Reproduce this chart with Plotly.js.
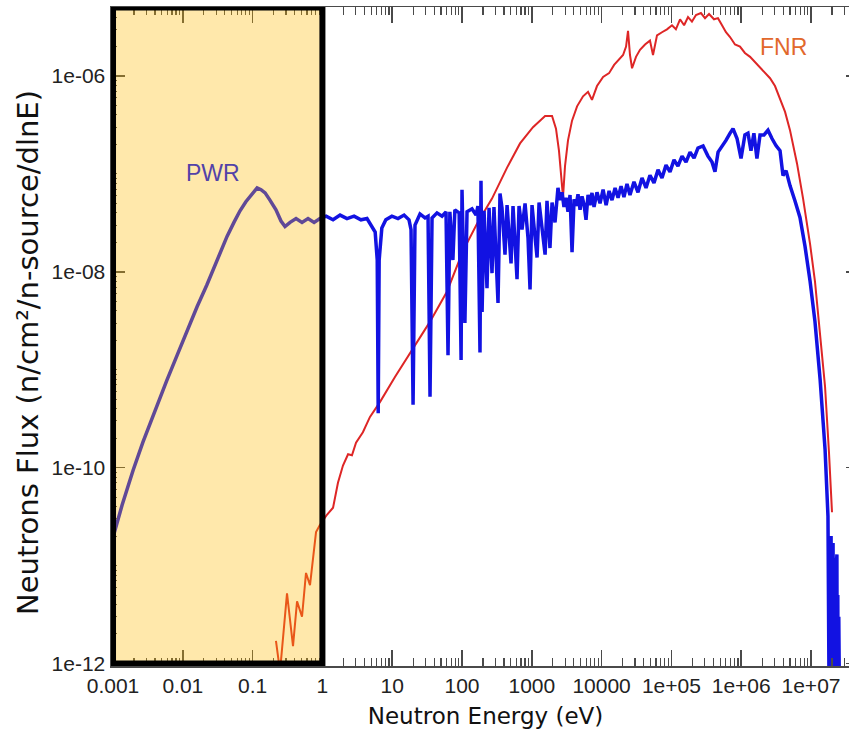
<!DOCTYPE html>
<html>
<head>
<meta charset="utf-8">
<script src="https://cdn.plot.ly/plotly-3.0.1.min.js"></script>
<style>
  html, body { margin: 0; padding: 0; background: #ffffff; overflow: hidden; }
  #chart { width: 860px; height: 749px; }
</style>
</head>
<body>
<div id="chart"></div>
<script>
// PWR neutron spectrum: energy (eV) and flux (n/cm2/n-source/dlnE)
const pwrEnergy = [
  9.35e-4, 1.0e-3, 1.35e-3, 1.94e-3, 2.69e-3, 4.0e-3, 5.9e-3, 8.3e-3, 1.15e-2, 1.6e-2,
  2.2e-2, 3.1e-2, 4.3e-2, 5.4e-2, 6.6e-2, 8.0e-2, 9.8e-2, 0.116, 0.132, 0.151,
  0.177, 0.216, 0.255, 0.291, 0.344, 0.419, 0.51, 0.622, 0.76, 0.92,
  1.13, 1.42, 1.79, 2.25, 2.84, 3.57, 4.35, 5.1, 5.7, 6.1,
  6.3, 6.5, 7.1, 8.1, 9.9, 12.1, 14.8, 17.4, 18.6, 19.9,
  21.2, 25, 29.5, 32.6, 34.8, 37.2, 43.8, 51.7, 59, 63,
  67, 74, 79, 91, 97, 100, 103, 110, 118, 139,
  159, 169, 181, 187, 194, 207, 228, 244, 269, 287,
  328, 350, 374, 413, 442, 471, 504, 538, 574, 614,
  656, 724, 800, 883, 943, 1007, 1110, 1190, 1270, 1400,
  1550, 1650, 1820, 1950, 2150, 2370, 2536, 2710, 2890, 3090,
  3300, 3530, 3770, 4030, 4300, 4590, 4910, 5240, 5600, 5980,
  6390, 6820, 7280, 7790, 8590, 9490, 10500, 11600, 12800, 14100,
  15600, 17200, 19000, 20900, 23100, 25500, 29100, 33200, 37900, 43300,
  49300, 56300, 64300, 73300, 83700, 95500, 1.09e5, 1.24e5, 1.42e5, 1.62e5,
  1.85e5, 2.11e5, 2.40e5, 2.84e5, 3.34e5, 3.82e5, 4.21e5, 4.66e5, 5.3e5, 6.05e5,
  6.9e5, 7.63e5, 8.71e5, 9.94e5, 1.13e6, 1.25e6, 1.38e6, 1.52e6, 1.68e6, 1.86e6,
  2.12e6, 2.42e6, 2.76e6, 3.15e6, 3.6e6, 3.97e6, 4.39e6, 5.0e6, 5.9e6, 6.95e6,
  8.2e6, 9.7e6, 1.14e7, 1.35e7, 1.59e7, 1.75e7, 1.84e7, 1.87e7, 1.91e7, 1.94e7,
  1.97e7, 2.0e7, 2.04e7, 2.07e7, 2.11e7, 2.14e7, 2.18e7, 2.22e7, 2.26e7, 2.3e7,
  2.35e7, 2.38e7, 2.42e7, 2.46e7, 2.5e7, 2.6e7
];
const pwrFlux = [
  1.5e-11, 1.95e-11, 4.15e-11, 9.4e-11, 1.83e-10, 3.9e-10, 7.8e-10, 1.41e-9, 2.55e-9, 4.4e-9,
  7.3e-9, 1.32e-8, 2.3e-8, 3.2e-8, 4.2e-8, 5.2e-8, 6.2e-8, 7.2e-8, 6.9e-8, 6.4e-8,
  5.4e-8, 4.3e-8, 3.3e-8, 2.9e-8, 3.2e-8, 3.5e-8, 3.2e-8, 3.5e-8, 3.2e-8, 3.5e-8,
  3.7e-8, 3.4e-8, 3.8e-8, 3.5e-8, 3.7e-8, 3.4e-8, 3.5e-8, 2.9e-8, 2.55e-8, 1.32e-8,
  3.6e-10, 1.32e-8, 2.8e-8, 3.4e-8, 3.7e-8, 3.5e-8, 3.8e-8, 3.4e-8, 2.7e-8, 4.4e-10,
  3.0e-8, 3.9e-8, 3.55e-8, 3.7e-8, 5.3e-10, 3.55e-8, 4.0e-8, 3.7e-8, 4.1e-8, 1.41e-9,
  4.1e-8, 1.32e-8, 4.3e-8, 4.0e-8, 1.26e-9, 6.9e-8, 2.5e-8, 3.0e-9, 4.1e-8, 4.4e-8,
  3.8e-8, 4.7e-8, 1.5e-9, 8.5e-8, 3.9e-9, 4.2e-8, 6.8e-9, 4.5e-8, 9.7e-9, 4.6e-8,
  4.8e-9, 6.3e-8, 4.5e-8, 1.5e-8, 4.8e-8, 2.6e-8, 1.22e-8, 4.7e-8, 2.1e-8, 8.4e-9,
  4.7e-8, 2.7e-8, 5.0e-8, 2.2e-8, 6.6e-9, 4.8e-8, 2.3e-8, 1.4e-8, 5.1e-8, 2.6e-8,
  1.5e-8, 5.3e-8, 1.75e-8, 5.1e-8, 3.2e-8, 7.2e-8, 5.4e-8, 6.5e-8, 4.6e-8, 5.7e-8,
  4.1e-8, 6.1e-8, 1.59e-8, 5.5e-8, 4.7e-8, 6.2e-8, 4.3e-8, 5.9e-8, 4.9e-8, 3.4e-8,
  6.1e-8, 4.8e-8, 6.4e-8, 4.6e-8, 6.5e-8, 5.0e-8, 6.9e-8, 4.8e-8, 6.7e-8, 5.4e-8,
  7.2e-8, 5.7e-8, 7.5e-8, 5.8e-8, 7.9e-8, 6.1e-8, 8.3e-8, 6.5e-8, 9.1e-8, 7.2e-8,
  9.7e-8, 8.1e-8, 1.10e-7, 9.1e-8, 1.23e-7, 1.05e-7, 1.39e-7, 1.20e-7, 1.52e-7, 1.32e-7,
  1.67e-7, 1.45e-7, 1.84e-7, 1.93e-7, 1.52e-7, 1.32e-7, 1.05e-7, 1.67e-7, 1.9e-7, 2.2e-7,
  2.6e-7, 2.9e-7, 2.3e-7, 1.44e-7, 2.5e-7, 2.6e-7, 1.73e-7, 2.6e-7, 1.44e-7, 2.5e-7,
  2.5e-7, 2.8e-7, 2.3e-7, 1.95e-7, 1.73e-7, 9.6e-8, 1.08e-7, 7.6e-8, 5.3e-8, 3.6e-8,
  1.83e-8, 8.0e-9, 3.1e-9, 8.0e-10, 1.54e-10, 3.2e-11, 1e-13, 1.4e-11, 1e-13, 2.0e-11,
  1e-13, 1.5e-11, 1e-13, 1.7e-11, 1e-13, 1.1e-11, 1e-13, 1.2e-11, 1e-13, 9e-12,
  1.3e-11, 1e-13, 5e-12, 1e-13, 3e-12, 1e-13
];

// FNR (fast reactor) spectrum
const fnrEnergy = [
  0.216, 0.247, 0.311, 0.379, 0.433, 0.51, 0.582, 0.664, 0.81, 0.92,
  1.16, 1.42, 1.67, 1.97, 2.33, 2.65, 3.03, 3.8, 4.8, 6.7,
  11, 19.9, 34.8, 61, 103, 164, 269, 442, 678, 1040,
  1550, 1950, 2220, 2450, 2620, 2800, 2990, 3300, 3770, 4450,
  5420, 6390, 7280, 8590, 10500, 12800, 15100, 17700, 20300, 22400,
  23900, 25500, 27300, 31100, 35500, 41900, 49300, 54500, 62200, 73300,
  86400, 1.02e5, 1.16e5, 1.33e5, 1.52e5, 1.73e5, 1.97e5, 2.25e5, 2.65e5, 3.03e5,
  3.46e5, 4.08e5, 4.65e5, 5.31e5, 6.05e5, 6.92e5, 8.15e5, 9.61e5, 1.13e6, 1.34e6,
  1.58e6, 1.86e6, 2.19e6, 2.59e6, 3.05e6, 3.6e6, 4.25e6, 5.0e6, 6.3e6, 7.7e6,
  9.7e6, 1.14e7, 1.35e7, 1.59e7, 1.81e7, 2.0e7
];
const fnrFlux = [
  1.7e-12, 8.3e-13, 5.2e-12, 1.5e-12, 4.3e-12, 3.0e-12, 8.4e-12, 6.3e-12, 2.2e-11, 2.6e-11,
  3.3e-11, 3.9e-11, 7.0e-11, 1.05e-10, 1.37e-10, 1.34e-10, 1.8e-10, 2.3e-10, 3.3e-10, 4.7e-10,
  8.5e-10, 1.64e-9, 3.1e-9, 6.3e-9, 1.63e-8, 3.1e-8, 5.6e-8, 1.16e-7, 2.05e-7, 3.0e-7,
  3.9e-7, 3.9e-7, 2.9e-7, 1.73e-7, 9.6e-8, 5.8e-8, 1.2e-7, 2.2e-7, 3.5e-7, 4.9e-7,
  6.2e-7, 6.9e-7, 5.7e-7, 7.9e-7, 9.8e-7, 1.07e-6, 1.3e-6, 1.46e-6, 1.64e-6, 2.0e-6,
  2.9e-6, 1.64e-6, 1.2e-6, 1.57e-6, 1.85e-6, 2.1e-6, 2.3e-6, 1.64e-6, 2.6e-6, 2.8e-6,
  3.0e-6, 3.3e-6, 3.0e-6, 3.8e-6, 3.3e-6, 4.0e-6, 3.6e-6, 4.2e-6, 4.4e-6, 3.9e-6,
  4.3e-6, 3.8e-6, 3.9e-6, 3.3e-6, 2.8e-6, 2.5e-6, 2.1e-6, 2.0e-6, 1.72e-6, 1.57e-6,
  1.39e-6, 1.24e-6, 1.1e-6, 9.5e-7, 7.9e-7, 5.9e-7, 4.3e-7, 2.8e-7, 1.28e-7, 5.6e-8,
  1.92e-8, 8.0e-9, 2.45e-9, 6.7e-10, 1.43e-10, 3.5e-11
];

// Axis tick labels
const xTickVals = [1e-3, 1e-2, 1e-1, 1, 10, 100, 1000, 1e4, 1e5, 1e6, 1e7];
const xTickText = ['0.001', '0.01', '0.1', '1', '10', '100', '1000', '10000', '1e+05', '1e+06', '1e+07'];
const yTickVals = [1e-12, 1e-10, 1e-8, 1e-6];
const yTickText = ['1e-12', '1e-10', '1e-08', '1e-06'];

// Thermal window highlighted on the chart (eV)
const thermalLow = 1e-3;
const thermalHigh = 1;

// Minor ticks at 2..9 of every decade
function minorTicks(fromExp, toExp, withDecades) {
  const out = [];
  for (let e = fromExp; e <= toExp; e++) {
    const base = Math.pow(10, e);
    if (withDecades) out.push(base);
    for (let d = 2; d <= 9; d++) out.push(d * base);
  }
  return out;
}
const xMinor = minorTicks(-4, 7, false);
const yMinor = minorTicks(-13, -6, true).filter(v => yTickVals.indexOf(v) < 0);

const tickColor = '#4a4a4a';

const traces = [
  {
    x: fnrEnergy, y: fnrFlux, type: 'scatter', mode: 'lines',
    line: { color: 'rgb(222,38,38)', width: 2 }, hoverinfo: 'skip'
  },
  {
    x: pwrEnergy, y: pwrFlux, type: 'scatter', mode: 'lines',
    line: { color: 'rgb(18,18,226)', width: 3.5 }, hoverinfo: 'skip'
  }
];

const layout = {
  width: 860, height: 749,
  margin: { l: 111, r: 0, t: 7, b: 83 },
  paper_bgcolor: '#ffffff', plot_bgcolor: '#ffffff',
  showlegend: false,
  xaxis: {
    type: 'log', range: [-3.029, 7.702],
    tickmode: 'array', tickvals: xTickVals, ticktext: xTickText,
    ticks: 'inside', ticklen: 16, tickwidth: 1.5, tickcolor: tickColor,
    showline: true, linecolor: tickColor, linewidth: 1.5, mirror: 'ticks',
    showgrid: false, zeroline: false,
    tickfont: { family: 'Liberation Sans, Arial, sans-serif', size: 21, color: '#222' },
    minor: { tickmode: 'array', tickvals: xMinor, ticks: 'inside', ticklen: 8, tickwidth: 1.2, tickcolor: tickColor, showgrid: false },
    title: { text: 'Neutron Energy (eV)', font: { family: 'DejaVu Sans, sans-serif', size: 23, color: '#111' }, standoff: 12 }
  },
  yaxis: {
    type: 'log', range: [-12.026, -5.295],
    tickmode: 'array', tickvals: yTickVals, ticktext: yTickText,
    ticks: 'inside', ticklen: 14, tickwidth: 1.5, tickcolor: tickColor,
    showline: true, linecolor: tickColor, linewidth: 1.5, mirror: 'ticks',
    showgrid: false, zeroline: false,
    tickfont: { family: 'Liberation Sans, Arial, sans-serif', size: 21, color: '#222' },
    minor: { tickmode: 'array', tickvals: yMinor, ticks: 'inside', ticklen: 6, tickwidth: 1, tickcolor: tickColor, showgrid: false }
  },
  shapes: [
    {
      type: 'rect', xref: 'x', yref: 'y', layer: 'above',
      x0: thermalLow, x1: thermalHigh, y0: 1e-12, y1: 5e-6,
      fillcolor: 'rgba(255,185,0,0.33)', line: { width: 0 }
    },
    {
      type: 'rect', xref: 'x', yref: 'y', layer: 'above',
      x0: thermalLow, x1: thermalHigh, y0: 1e-12, y1: 5e-6,
      fillcolor: 'rgba(0,0,0,0)', line: { color: '#000000', width: 6 }
    }
  ],
  annotations: [
    {
      // vertical axis title, set a little below the axis midpoint
      text: 'Neutrons Flux (n/cm²/n-source/dlnE)', xref: 'paper', yref: 'paper',
      x: -0.1108, y: 0.475, xanchor: 'center', yanchor: 'middle', textangle: -90, showarrow: false,
      font: { family: 'DejaVu Sans, sans-serif', size: 29, color: '#111' }
    },
    {
      text: 'PWR', xref: 'x', yref: 'y', x: -1.567, y: -6.987, showarrow: false,
      font: { family: 'Liberation Sans, Arial, sans-serif', size: 23, color: 'rgb(82,66,168)' }
    },
    {
      text: 'FNR', xref: 'x', yref: 'y', x: 6.599, y: -5.704, showarrow: false,
      font: { family: 'Liberation Sans, Arial, sans-serif', size: 23, color: 'rgb(226,104,44)' }
    }
  ]
};

Plotly.newPlot('chart', traces, layout, { displayModeBar: false, staticPlot: true });
</script>
</body>
</html>
